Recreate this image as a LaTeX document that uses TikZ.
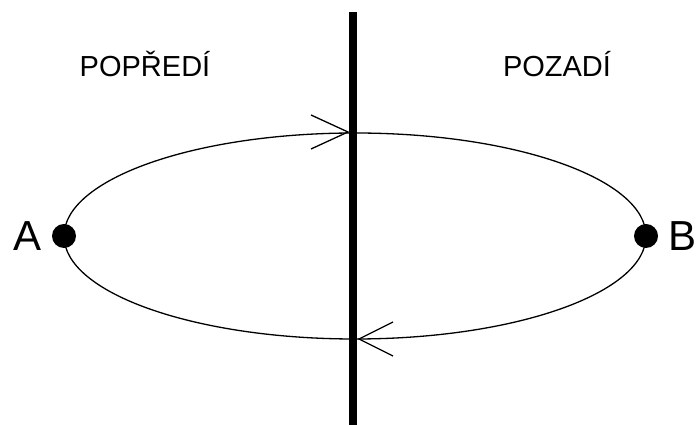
\documentclass[tikz,border=0pt]{standalone}
\usepackage{fontspec}
\setmainfont{Liberation Sans}
\usepackage{tikz}
\usetikzlibrary{positioning}

\begin{document}
\begin{tikzpicture}[
    x=1pt, y=1pt,
    dot/.style={circle, fill=black, inner sep=0pt, minimum size=24pt},
    side/.style={font=\fontsize{29}{32}\selectfont, inner sep=0pt},
    point/.style={font=\fontsize{42}{46}\selectfont, inner sep=0pt},
    path/.style={line width=1.3pt},
    barb/.style={line width=1.3pt, line join=miter},
]
\useasboundingbox (0,0) rectangle (696,425);
% the wall
\coordinate (top) at (353,413);
\coordinate (bottom) at (353,0);
\draw[line width=8pt] (top) -- (bottom);
% labels of both sides
\node[side] (front) at (145,361) {POPŘEDÍ};
\node[side] (back) at (557,361) {POZADÍ};
% the two points
\node[dot] (A) at (64,189) {};
\node[dot] (B) at (646,189) {};
\node[point, left=10pt of A] (labelA) {A};
\node[point, right=10pt of B] (labelB) {B};
% the loop
\draw[path] (A.center) arc[start angle=180, end angle=0, x radius=291, y radius=103];
\draw[path] (A.center) arc[start angle=180, end angle=360, x radius=291, y radius=103];
% direction marks
\coordinate (ttip) at (348,293);
\coordinate (btip) at (359,86);
\draw[barb] (ttip) ++(-37,17) -- (ttip) -- ++(-37,-17);
\draw[barb] (btip) ++(34,17) -- (btip) -- ++(34,-17);
\end{tikzpicture}
\end{document}
